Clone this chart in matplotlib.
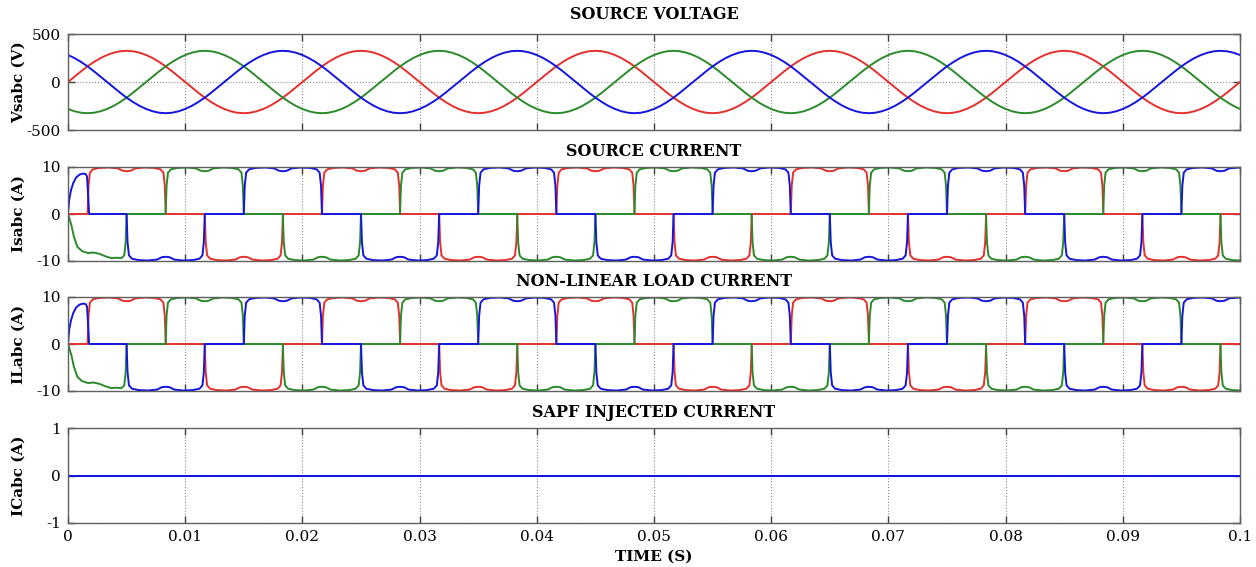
import numpy as np
import matplotlib
matplotlib.use('Agg')
import matplotlib.pyplot as plt

# =============================================================================
# DATA

# phase-a source voltage over one half cycle, 10 degree steps (V)
VA_HALF = [0, 56, 111, 163, 209, 249, 281, 305, 320, 325,
           320, 305, 281, 249, 209, 163, 111, 56]
N_CYCLES = 5
PERIOD_MS = 20.0

# one 120 degree conduction block of the rectifier current (ms, A)
PULSE_T = [0.0, 0.08, 0.2, 0.45, 1.0, 1.8, 2.6, 3.0, 3.33, 3.67,
           4.07, 4.87, 5.67, 6.22, 6.47, 6.59, 6.67]
PULSE_I = [0.0, 6.0, 8.8, 9.5, 9.8, 9.9, 9.7, 9.2, 9.1, 9.2,
           9.7, 9.9, 9.8, 9.5, 8.8, 6.0, 0.0]

# block start times (ms)
RED_POS = [1.67, 21.67, 41.67, 61.67, 81.67]
RED_NEG = [11.67, 31.67, 51.67, 71.67, 91.67]
GREEN_POS = [8.33, 28.33, 48.33, 68.33, 88.33]
GREEN_NEG = [18.33, 38.33, 58.33, 78.33, 98.33]
BLUE_POS = [15.0, 35.0, 55.0, 75.0, 95.0]
BLUE_NEG = [5.0, 25.0, 45.0, 65.0, 85.0]

# start-up transients (ms, A)
BLUE_START_T = [0.0, 0.1, 0.25, 0.45, 0.7, 1.0, 1.3, 1.5, 1.62, 1.72, 1.8]
BLUE_START_I = [0.0, 3.0, 5.0, 6.6, 7.8, 8.4, 8.6, 8.5, 8.0, 4.0, 0.0]
GREEN_START_T = [0.0, 0.15, 0.3, 0.5, 0.8, 1.2, 1.7, 2.2, 2.7, 3.2,
                 3.7, 4.1, 4.55, 4.8, 4.92, 5.0]
GREEN_START_I = [0.0, -1.2, -2.5, -4.8, -7.0, -7.9, -8.3, -8.2, -8.5, -9.0,
                 -9.4, -9.3, -9.4, -8.8, -6.0, 0.0]

XTICKS = [0, 0.01, 0.02, 0.03, 0.04, 0.05, 0.06, 0.07, 0.08, 0.09, 0.1]
XTICKLABELS = ['0', '0.01', '0.02', '0.03', '0.04', '0.05',
               '0.06', '0.07', '0.08', '0.09', '0.1']

TITLES = ['SOURCE VOLTAGE', 'SOURCE CURRENT',
          'NON-LINEAR LOAD CURRENT', 'SAPF INJECTED CURRENT']
YLABELS = ['Vsabc (V)', 'Isabc (A)', 'ILabc (A)', 'ICabc (A)']
YLIMS = [500, 10, 10, 1]

RED, GREEN, BLUE = '#e3302c', '#2a8a2a', '#1414dc'


# =============================================================================
def phase_current(pos, neg, start_t=None, start_i=None):
    segs = []
    if start_t is not None:
        segs.append((start_t[0], start_t, start_i))
    for s in pos:
        segs.append((s, [s + x for x in PULSE_T], PULSE_I))
    for s in neg:
        segs.append((s, [s + x for x in PULSE_T], [-v for v in PULSE_I]))
    segs.sort(key=lambda a: a[0])
    t, i = [0.0], [0.0]
    for _, st, si in segs:
        t += list(st)
        i += list(si)
    t.append(110.0)
    i.append(0.0)
    return np.array(t) / 1000.0, np.array(i)


# voltage traces
cycle = np.array(VA_HALF + [-v for v in VA_HALF], dtype=float)
n = len(cycle)
idx = np.arange(n * N_CYCLES + 1)
t_v = idx * PERIOD_MS / n / 1000.0
v_red = cycle[idx % n]
v_blue = cycle[(idx + n // 3) % n]
v_green = cycle[(idx + 2 * n // 3) % n]

# current traces
t_r, i_r = phase_current(RED_POS, RED_NEG)
t_g, i_g = phase_current(GREEN_POS, GREEN_NEG, GREEN_START_T, GREEN_START_I)
t_b, i_b = phase_current(BLUE_POS, BLUE_NEG, BLUE_START_T, BLUE_START_I)

# =============================================================================
plt.rcParams['font.family'] = ['DejaVu Serif']

fig = plt.figure(figsize=(12.56, 5.67), dpi=100)
L, W = 68 / 1256, 1172 / 1256
boxes = [(34, 130), (167, 261), (297, 391), (428, 523)]
axes = []
for top, bot in boxes:
    axes.append(fig.add_axes([L, (567 - bot) / 567, W, (bot - top) / 567]))

lw = 1.4
axes[0].plot(t_v, v_red, c=RED, lw=lw)
axes[0].plot(t_v, v_green, c=GREEN, lw=lw)
axes[0].plot(t_v, v_blue, c=BLUE, lw=lw)

for ax in axes[1:3]:
    ax.plot(t_r, i_r, c=RED, lw=lw)
    ax.plot(t_g, i_g, c=GREEN, lw=lw)
    ax.plot(t_b, i_b, c=BLUE, lw=lw)

zero = np.zeros(2)
axes[3].plot([0, 0.1], zero, c=RED, lw=lw)
axes[3].plot([0, 0.1], zero, c=GREEN, lw=lw)
axes[3].plot([0, 0.1], zero, c=BLUE, lw=lw)

for k, ax in enumerate(axes):
    lim = YLIMS[k]
    ax.set_xlim(0, 0.1)
    ax.set_ylim(-lim, lim)
    ax.set_xticks(XTICKS)
    ax.set_yticks([-lim, 0, lim])
    ax.set_yticklabels([str(-lim), '0', str(lim)])
    if k == 3:
        ax.set_xticklabels(XTICKLABELS)
    else:
        ax.set_xticklabels([])
    ax.set_axisbelow(True)
    ax.grid(True, linestyle=':', color='#8a8a8a', linewidth=0.8)
    ax.tick_params(direction='in', top=True, right=True, length=5,
                   width=1, color='#404040', labelsize=11, pad=5)
    for sp in ax.spines.values():
        sp.set_color('#606060')
        sp.set_linewidth(1.0)
    ax.set_title(TITLES[k], fontsize=11.5, fontweight='bold',
                 pad=11 if k == 0 else 8)
    ax.set_ylabel(YLABELS[k], fontsize=11, fontweight='bold')
    ax.yaxis.set_label_coords(-0.036, 0.5)

axes[3].set_xlabel('TIME (S)', fontsize=11, fontweight='bold', labelpad=4)

fig.savefig('out.png', dpi=100)
